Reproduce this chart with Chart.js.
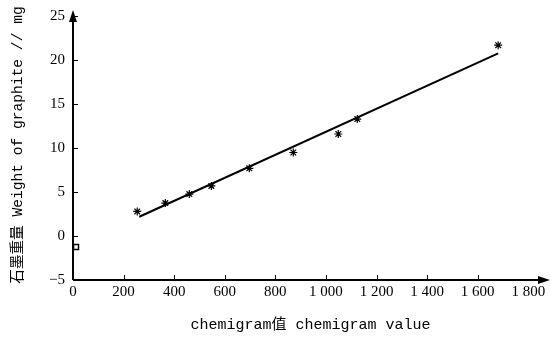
<!DOCTYPE html>
<html>
<head>
<meta charset="utf-8">
<script src="https://cdn.jsdelivr.net/npm/chart.js@4.4.1/dist/chart.umd.min.js"></script>
<style>
  html, body { margin: 0; padding: 0; background: #fff; }
  #wrap { width: 556px; height: 337px; }
</style>
</head>
<body>
<div id="wrap"><canvas id="chart"></canvas></div>
<script>
// measured points (chemigram value, graphite weight mg)
const chemValues = [254, 365, 460, 547, 697, 871, 1049, 1124, 1681];
const weights = [2.8, 3.75, 4.77, 5.7, 7.7, 9.5, 11.6, 13.3, 21.7];
// fitted line end points
const fitX = [262, 1681];
const fitY = [2.19, 20.76];
// odd little square near the origin
const squarePt = [{ x: 12, y: -1.25 }];
const xTicks = [0, 200, 400, 600, 800, 1000, 1200, 1400, 1600, 1800];
const yTicks = [-5, 0, 5, 10, 15, 20, 25];

const serif = "'Liberation Serif', 'Times New Roman', serif";
const titleFont = "'Liberation Mono', 'Noto Sans CJK SC', monospace";

// axes with arrow heads and inward tick marks
const axisPlugin = {
  id: 'axisArrows',
  afterDraw(chart) {
    const ctx = chart.ctx;
    const a = chart.chartArea;
    const xs = chart.scales.x, ys = chart.scales.y;
    ctx.save();
    ctx.strokeStyle = '#000';
    ctx.fillStyle = '#000';
    ctx.lineWidth = 2;
    ctx.beginPath();
    ctx.moveTo(a.left, a.bottom);
    ctx.lineTo(a.left, a.top + 8);
    ctx.moveTo(a.left, a.bottom);
    ctx.lineTo(a.right - 6, a.bottom);
    ctx.stroke();
    // arrow heads
    ctx.beginPath();
    ctx.moveTo(a.left, a.top);
    ctx.lineTo(a.left - 4, a.top + 12);
    ctx.lineTo(a.left + 4, a.top + 12);
    ctx.closePath();
    ctx.fill();
    ctx.beginPath();
    ctx.moveTo(a.right + 2, a.bottom);
    ctx.lineTo(a.right - 10, a.bottom - 4);
    ctx.lineTo(a.right - 10, a.bottom + 4);
    ctx.closePath();
    ctx.fill();
    // tick marks
    ctx.lineWidth = 1;
    ctx.beginPath();
    xTicks.forEach(v => {
      if (v === 0 || v === 1800) return;
      const px = Math.round(xs.getPixelForValue(v)) + 0.5;
      ctx.moveTo(px, a.bottom);
      ctx.lineTo(px, a.bottom - 5);
    });
    yTicks.forEach(v => {
      if (v === -5) return;
      const py = Math.round(ys.getPixelForValue(v)) + 0.5;
      ctx.moveTo(a.left, py);
      ctx.lineTo(a.left + 5, py);
    });
    ctx.stroke();
    ctx.restore();
  }
};

new Chart(document.getElementById('chart'), {
  type: 'scatter',
  data: {
    datasets: [
      {
        data: chemValues.map((x, i) => ({ x: x, y: weights[i] })),
        pointStyle: 'star',
        pointRadius: 4,
        borderColor: '#000',
        borderWidth: 1.2,
        showLine: false
      },
      {
        data: fitX.map((x, i) => ({ x: x, y: fitY[i] })),
        showLine: true,
        borderColor: '#000',
        borderWidth: 2,
        pointRadius: 0
      },
      {
        data: squarePt,
        pointStyle: 'rect',
        pointRadius: 3.5,
        borderColor: '#000',
        borderWidth: 1.5,
        backgroundColor: '#fff'
      }
    ]
  },
  options: {
    responsive: true,
    maintainAspectRatio: false,
    animation: false,
    clip: false,
    layout: { padding: { top: 0, right: 8, left: 0, bottom: 0 } },
    plugins: { legend: { display: false }, tooltip: { enabled: false } },
    scales: {
      x: {
        type: 'linear',
        min: 0,
        max: 1878,
        afterBuildTicks: s => { s.ticks = xTicks.map(v => ({ value: v })); },
        afterFit: s => { s.height = 57; },
        grid: { display: false, drawTicks: false },
        border: { display: false },
        ticks: {
          color: '#000',
          padding: 3,
          maxRotation: 0,
          autoSkip: false,
          font: { family: serif, size: 15 },
          callback: v => v >= 1000 ? '1 ' + String(v).slice(1) : String(v)
        },
        title: {
          display: true,
          text: 'chemigram值 chemigram value',
          color: '#000',
          font: { family: titleFont, size: 15 },
          padding: { top: 5, bottom: 3 }
        }
      },
      y: {
        type: 'linear',
        min: -5,
        max: 25.7,
        afterBuildTicks: s => { s.ticks = yTicks.map(v => ({ value: v })); },
        afterFit: s => { s.width = 73; s.paddingTop = 10; s.paddingBottom = 0; },
        grid: { display: false, drawTicks: false },
        border: { display: false },
        ticks: {
          color: '#000',
          padding: 8,
          autoSkip: false,
          font: { family: serif, size: 15 },
          callback: v => v < 0 ? '\u2212' + Math.abs(v) : String(v)
        },
        title: {
          display: true,
          text: '石墨重量 Weight of graphite // mg',
          color: '#000',
          font: { family: titleFont, size: 14.6 },
          padding: { top: 9, bottom: 0 }
        }
      }
    }
  },
  plugins: [axisPlugin]
});
</script>
</body>
</html>
